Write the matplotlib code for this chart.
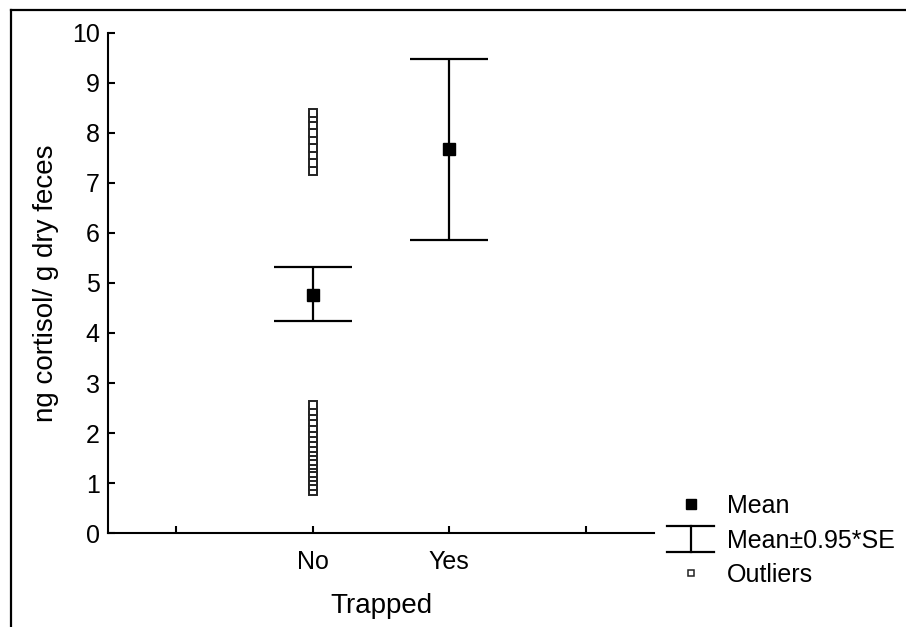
import numpy as np
import matplotlib
matplotlib.use("Agg")
import matplotlib.pyplot as plt
from matplotlib.lines import Line2D
from matplotlib.legend_handler import HandlerBase

plt.rcParams['font.family'] = ['Liberation Sans', 'DejaVu Sans']

# data
groups = ['No', 'Yes']
group_pos = [1, 2]
means = [4.76, 7.67]
upper = [5.31, 9.48]
lower = [4.23, 5.85]
outliers_no = [0.85, 0.95, 1.05, 1.12, 1.2, 1.3, 1.37, 1.45, 1.55, 1.62, 1.7,
               1.8, 1.9, 2.0, 2.1, 2.22, 2.35, 2.45, 2.57,
               7.23, 7.4, 7.55, 7.7, 7.85, 8.0, 8.15, 8.3, 8.39]


class HandlerIBar(HandlerBase):
    def create_artists(self, legend, orig_handle, xdescent, ydescent,
                       width, height, fontsize, trans):
        cx = width / 2 - xdescent
        top = height * 1.25
        bot = -height * 0.25
        w = width * 0.5
        lines = [
            Line2D([cx, cx], [bot, top]),
            Line2D([cx - w, cx + w], [top, top]),
            Line2D([cx - w, cx + w], [bot, bot]),
        ]
        for ln in lines:
            ln.set_color('black')
            ln.set_linewidth(1.6)
            ln.set_transform(trans)
        return lines


fig = plt.figure(figsize=(9.06, 6.27), dpi=100)
ax = fig.add_axes([0.1192, 0.1499, 0.6027, 0.7975])

yerr = [np.array(means) - np.array(lower), np.array(upper) - np.array(means)]
ax.errorbar(group_pos, means, yerr=yerr, fmt='none', ecolor='black',
            elinewidth=1.6, capsize=28, capthick=1.6)
ax.plot(group_pos, means, 's', color='black', markersize=8.5, linestyle='none')
ax.plot([1] * len(outliers_no), outliers_no, 's', markersize=5.5,
        markerfacecolor='white', markeredgecolor='#222222',
        markeredgewidth=1.4, linestyle='none')

ax.set_xlim(-0.5, 3.5)
ax.set_ylim(0, 10)
ax.set_xticks([0, 1, 2, 3])
ax.set_xticklabels([''] + groups + [''])
ax.set_yticks(range(0, 11))
ax.spines['top'].set_visible(False)
ax.spines['right'].set_visible(False)
ax.spines['left'].set_linewidth(1.5)
ax.spines['bottom'].set_linewidth(1.5)
ax.tick_params(axis='both', direction='in', length=5, width=1.5,
               labelsize=18)
ax.tick_params(axis='x', pad=12)
ax.tick_params(axis='y', pad=6)
ax.set_xlabel('Trapped', fontsize=20, labelpad=14)
ax.set_ylabel('ng cortisol/ g dry feces', fontsize=20, labelpad=9)

h_mean = Line2D([], [], marker='s', color='black', markersize=7, linestyle='none')
h_err = Line2D([], [], color='black')
h_out = Line2D([], [], marker='s', markersize=4.5, markerfacecolor='white',
               markeredgecolor='#222222', markeredgewidth=1.1, linestyle='none')
fig.legend([h_mean, h_err, h_out], ['Mean', 'Mean\u00b10.95*SE', 'Outliers'],
           handler_map={h_err: HandlerIBar()},
           loc='upper left', bbox_to_anchor=(0.725, 0.228),
           frameon=False, fontsize=18, handlelength=1.9, handletextpad=0.5,
           labelspacing=0.42, borderaxespad=0)

# outer frame (left and top edges)
fig.add_artist(Line2D([0.012, 0.012], [0, 0.984], transform=fig.transFigure,
                      color='black', linewidth=1.6))
fig.add_artist(Line2D([0.012, 0.999], [0.984, 0.984], transform=fig.transFigure,
                      color='black', linewidth=1.6))

fig.savefig('out.png', dpi=100)
